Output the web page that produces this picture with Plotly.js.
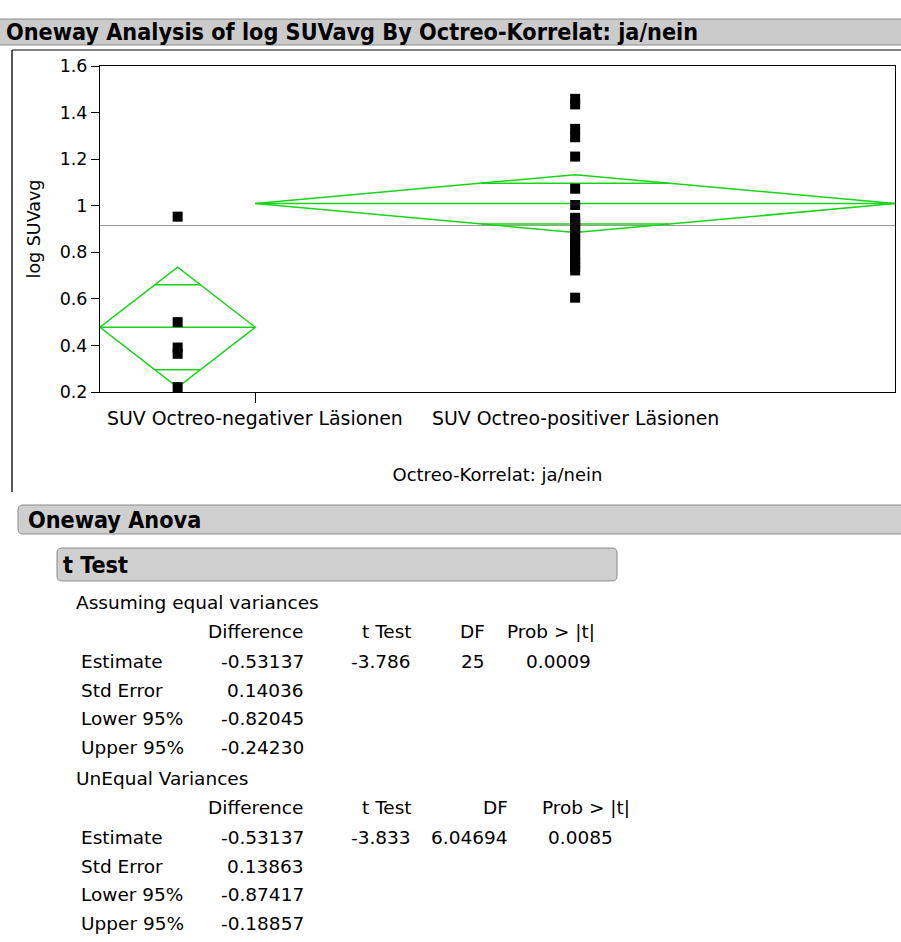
<!DOCTYPE html>
<html>
<head>
<meta charset="utf-8">
<script src="https://cdn.plot.ly/plotly-3.0.1.min.js"></script>
<style>
html,body{margin:0;padding:0;background:#fff;}
#chart{width:901px;height:942px;}
</style>
</head>
<body>
<div id="chart"></div>
<script>
// ---------------- data ----------------
const groups = ['SUV Octreo-negativer Läsionen', 'SUV Octreo-positiver Läsionen'];
const negValues = [0.953, 0.500, 0.391, 0.364, 0.221];
const posValues = [1.459, 1.435, 1.330, 1.294, 1.211, 1.073, 1.003,
                   0.948, 0.936, 0.921, 0.905, 0.889, 0.871, 0.853, 0.834,
                   0.812, 0.791, 0.770, 0.752, 0.736, 0.722, 0.605];
const groupMeans = [0.478, 1.009];
const ciHalf = [0.258, 0.124];
const grandMean = 0.915;
const catStart = [0, 5];
const catEnd = [5, 25.6];
const yTicks = [0.2, 0.4, 0.6, 0.8, 1.0, 1.2, 1.4, 1.6];

const mainTitle = 'Oneway Analysis of log SUVavg By Octreo-Korrelat: ja/nein';
const yTitle = 'log SUVavg';
const xTitle = 'Octreo-Korrelat: ja/nein';

const rowLabels = ['Estimate', 'Std Error', 'Lower 95%', 'Upper 95%'];
const colHeaders = ['Difference', 't Test', 'DF', 'Prob > |t|'];
const eqDifference = ['-0.53137', '0.14036', '-0.82045', '-0.24230'];
const eqEstimateRest = ['-3.786', '25', '0.0009'];
const uneqDifference = ['-0.53137', '0.13863', '-0.87417', '-0.18857'];
const uneqEstimateRest = ['-3.833', '6.04694', '0.0085'];

// ---------------- layout helpers (pixel -> paper) ----------------
const W = 901, H = 942, L = 100, R = 895, T = 66, B = 392;
const px = x => (x - L) / (R - L);
const py = y => (B - y) / (B - T);

const GREEN = '#18d418';
const SANS = 'DejaVu Sans, Liberation Sans, sans-serif';
const NARROW = 'Liberation Sans Narrow, DejaVu Sans Condensed, Arial Narrow, sans-serif';
const TS = 18.5; // table font size

const traces = [];
const allValues = [negValues, posValues];

for (let g = 0; g < 2; g++) {
  const x0 = catStart[g], x1 = catEnd[g], xc = (x0 + x1) / 2;
  const m = groupMeans[g], h = ciHalf[g];
  // diamond
  traces.push({
    type: 'scatter', mode: 'lines', hoverinfo: 'skip', showlegend: false,
    x: [x0, xc, x1, xc, x0], y: [m, m + h, m, m - h, m],
    line: {color: GREEN, width: 1.5}
  });
  // mean line
  traces.push({
    type: 'scatter', mode: 'lines', hoverinfo: 'skip', showlegend: false,
    x: [x0, x1], y: [m, m], line: {color: GREEN, width: 1.5}
  });
  // overlap marks
  const k = 1 - 1 / Math.SQRT2;
  const ov = h / Math.SQRT2;
  const xa = xc - (xc - x0) * k, xb = xc + (x1 - xc) * k;
  traces.push({
    type: 'scatter', mode: 'lines', hoverinfo: 'skip', showlegend: false,
    x: [xa, xb, null, xa, xb], y: [m + ov, m + ov, null, m - ov, m - ov],
    line: {color: GREEN, width: 1.5}
  });
}

for (let g = 0; g < 2; g++) {
  const xc = (catStart[g] + catEnd[g]) / 2;
  traces.push({
    type: 'scatter', mode: 'markers', name: groups[g], showlegend: false,
    x: allValues[g].map(() => xc), y: allValues[g],
    marker: {symbol: 'square', size: 10, color: '#000'}
  });
}

// ---------------- shapes ----------------
function roundRect(x0, y0, x1, y1, r) {
  const X = v => px(v).toFixed(5), Y = v => py(v).toFixed(5);
  return 'M' + X(x0 + r) + ',' + Y(y0) +
    ' L' + X(x1 - r) + ',' + Y(y0) +
    ' Q' + X(x1) + ',' + Y(y0) + ' ' + X(x1) + ',' + Y(y0 + r) +
    ' L' + X(x1) + ',' + Y(y1 - r) +
    ' Q' + X(x1) + ',' + Y(y1) + ' ' + X(x1 - r) + ',' + Y(y1) +
    ' L' + X(x0 + r) + ',' + Y(y1) +
    ' Q' + X(x0) + ',' + Y(y1) + ' ' + X(x0) + ',' + Y(y1 - r) +
    ' L' + X(x0) + ',' + Y(y0 + r) +
    ' Q' + X(x0) + ',' + Y(y0) + ' ' + X(x0 + r) + ',' + Y(y0) + ' Z';
}

const shapes = [
  // grand mean
  {type: 'line', xref: 'paper', yref: 'y', x0: 0, x1: 1, y0: grandMean, y1: grandMean,
   line: {color: '#9a9a9a', width: 1.2}, layer: 'below'},
  // title bar
  {type: 'rect', xref: 'paper', yref: 'paper', x0: px(-2), x1: px(905), y0: py(19), y1: py(45),
   fillcolor: '#cbcbcb', line: {color: '#8a8a8a', width: 1}},
  // frame
  {type: 'line', xref: 'paper', yref: 'paper', x0: px(12), x1: px(905), y0: py(50), y1: py(50),
   line: {color: '#5a5a5a', width: 1.5}},
  {type: 'line', xref: 'paper', yref: 'paper', x0: px(12), x1: px(12), y0: py(50), y1: py(492),
   line: {color: '#222', width: 1.5}},
  // Oneway Anova bar
  {type: 'path', xref: 'paper', yref: 'paper', path: roundRect(18, 505, 912, 534, 5),
   fillcolor: '#cfcfcf', line: {color: '#8a8a8a', width: 1}},
  // t Test bar
  {type: 'path', xref: 'paper', yref: 'paper', path: roundRect(57, 548, 617, 581, 5),
   fillcolor: '#cfcfcf', line: {color: '#8a8a8a', width: 1}}
];

// ---------------- annotations ----------------
const ann = [];
function txt(text, x, y, anchor, size, family, extra) {
  ann.push(Object.assign({
    text: text, xref: 'paper', yref: 'paper', x: px(x), y: py(y),
    xanchor: anchor, yanchor: 'middle', showarrow: false,
    font: {family: family || SANS, size: size || TS, color: '#000'}
  }, extra || {}));
}

txt('<b>' + mainTitle + '</b>', 4, 32, 'left', 23.2, NARROW);
txt('<b>Oneway Anova</b>', 26, 519, 'left', 23.2, NARROW);
txt('<b>t Test</b>', 61, 564, 'left', 23.2, NARROW);

// category labels
ann.push({text: groups[0], xref: 'x', yref: 'paper', x: catEnd[0], y: py(418),
  xanchor: 'center', yanchor: 'middle', showarrow: false,
  font: {family: SANS, size: 18.9, color: '#000'}});
ann.push({text: groups[1], xref: 'x', yref: 'paper', x: (catStart[1] + catEnd[1]) / 2, y: py(418),
  xanchor: 'center', yanchor: 'middle', showarrow: false,
  font: {family: SANS, size: 18.9, color: '#000'}});

// tables
function table(title, yTop, colRight, valRight, diffs, rest) {
  txt(title, 74, yTop, 'left', TS);
  const yh = yTop + 29.5;
  colHeaders.forEach((c, i) => txt(c, colRight[i], yh, 'right', TS));
  rowLabels.forEach((r, i) => {
    const yy = yh + 30 + i * 28.7;
    txt(r, 79, yy, 'left', TS);
    txt(diffs[i], valRight[0], yy, 'right', TS);
    if (i === 0) rest.forEach((v, j) => txt(v, valRight[j + 1], yy, 'right', TS));
  });
}
table('Assuming equal variances', 602, [305, 414, 487, 597], [306, 413, 487, 593], eqDifference, eqEstimateRest);
table('UnEqual Variances', 778, [305, 414, 510, 632], [306, 413, 510, 615], uneqDifference, uneqEstimateRest);

const layout = {
  width: W, height: H,
  margin: {l: L, r: W - R, t: T, b: H - B, pad: 0},
  paper_bgcolor: '#fff', plot_bgcolor: '#fff',
  showlegend: false,
  xaxis: {
    range: [0, catEnd[1]], tickvals: [catEnd[0]], showticklabels: false,
    ticks: 'outside', ticklen: 10, tickcolor: '#000', tickwidth: 1,
    showline: true, mirror: true, linecolor: '#000', linewidth: 1,
    showgrid: false, zeroline: false, fixedrange: true,
    title: {text: xTitle, font: {family: SANS, size: 18, color: '#000'}, standoff: 66}
  },
  yaxis: {
    range: [0.2, 1.6], tickvals: yTicks, ticks: 'outside', ticklen: 8,
    tickcolor: '#000', tickwidth: 1,
    tickfont: {family: SANS, size: 17.5, color: '#000'},
    showline: true, mirror: true, linecolor: '#000', linewidth: 1,
    showgrid: false, zeroline: false, fixedrange: true,
    title: {text: yTitle, font: {family: SANS, size: 17.5, color: '#000'}, standoff: 14}
  },
  shapes: shapes,
  annotations: ann
};

Plotly.newPlot('chart', traces, layout, {displayModeBar: false, staticPlot: true});
</script>
</body>
</html>
